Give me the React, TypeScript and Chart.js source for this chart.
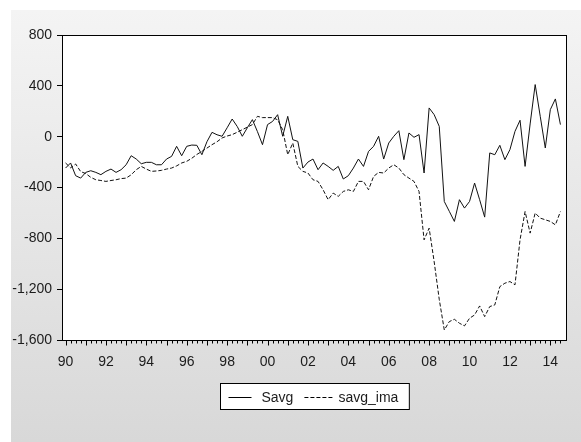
import { useEffect, useRef } from 'react';
import { Chart, registerables } from 'chart.js';

Chart.register(...registerables);

// quarterly, 1990Q1 .. 2014Q3
const savg = [
	-247, -207, -307, -326, -281, -268, -281, -299, -273, -255, -281, -260,
	-221, -150, -176, -213, -202, -202, -221, -221, -176, -155, -76, -150,
	-76, -66, -68, -142, -40, 34, 15, 3, 70, 139, 80, 3,
	70, 134, 40, -63, 95, 120, 173, 3, 160, -24, -37, -247,
	-200, -176, -260, -207, -234, -265, -234, -333, -307, -247, -176, -234,
	-116, -76, 3, -176, -50, 3, 47, -181, 29, -5, 16, -286,
	226, 173, 81, -510, -588, -667, -496, -562, -510, -365, -496, -633,
	-128, -142, -68, -181, -102, 42, 129, -234, 100, 410, 160, -89,
	213, 297, 95,
];
const savgIma = [
	-207, -245, -215, -275, -290, -320, -339, -345, -352, -345, -339, -330,
	-326, -300, -260, -234, -255, -273, -270, -265, -255, -247, -230, -207,
	-194, -170, -140, -116, -90, -63, -40, -10, 5, 16, 35, 55,
	75, 95, 160, 150, 150, 150, 133, 55, -142, -50, -234, -273,
	-286, -339, -352, -418, -496, -444, -470, -431, -418, -431, -352, -352,
	-418, -313, -281, -286, -247, -221, -247, -299, -326, -352, -431, -812,
	-720, -985, -1280, -1521, -1455, -1437, -1468, -1489, -1429, -1403, -1332, -1416,
	-1337, -1324, -1180, -1153, -1140, -1166, -812, -589, -759, -601, -641, -654,
	-667, -694, -589,
];
const yearLabels = ['90', '92', '94', '96', '98', '00', '02', '04', '06', '08', '10', '12', '14'];
const yTicks = [800, 400, 0, -400, -800, -1200, -1600];

const FONT = "'Liberation Sans', Arial, sans-serif";
const TEXT = '#1c1c1c';

const toPoints = (arr: number[]) => arr.map((v, i) => ({ x: i, y: v }));

const framePlugin = {
	id: 'frame',
	beforeDraw(chart: any) {
		const { ctx, chartArea: a } = chart;
		ctx.save();
		ctx.fillStyle = '#fff';
		ctx.fillRect(a.left, a.top, a.right - a.left, a.bottom - a.top);
		ctx.restore();
	},
	afterDraw(chart: any) {
		const { ctx, chartArea: a, scales } = chart;
		ctx.save();
		ctx.strokeStyle = '#000';
		ctx.lineWidth = 1;
		const l = Math.round(a.left) + 0.5;
		const t = Math.round(a.top) + 0.5;
		const r = Math.round(a.right) - 0.5;
		const b = Math.round(a.bottom) + 0.5;
		ctx.strokeRect(l, t, r - l, b - t);

		// quarterly tick marks, longer at each year
		ctx.beginPath();
		for (let i = 0; i < savg.length; i++) {
			const px = Math.round(scales.x.getPixelForValue(i)) + 0.5;
			ctx.moveTo(px, b);
			ctx.lineTo(px, b + (i % 4 === 0 ? 5 : 3));
		}
		ctx.stroke();

		// legend box
		ctx.font = `14px ${FONT}`;
		ctx.textBaseline = 'middle';
		const items = chart.data.datasets.map((ds: any) => ({
			label: ds.label,
			dash: ds.borderDash || [],
			sample: ds.borderDash ? 28 : 23,
			w: ctx.measureText(ds.label).width,
		}));
		const padL = 8;
		const padR = 11;
		const gapText = [10, 6];
		const gapItem = 11;
		let width = padL + padR + gapItem * (items.length - 1);
		items.forEach((it: any, k: number) => (width += it.sample + gapText[k] + it.w));
		const cx = (a.left + a.right) / 2;
		const bx = Math.round(cx - width / 2) + 0.5;
		const by = 383.5;
		const bh = 26;
		ctx.fillStyle = '#fff';
		ctx.fillRect(bx, by, width, bh);
		ctx.strokeRect(bx, by, width, bh);
		const my = Math.round(by + bh / 2);
		let x = bx + padL;
		items.forEach((it: any, k: number) => {
			ctx.setLineDash(it.dash);
			ctx.beginPath();
			ctx.moveTo(x, my + 0.5);
			ctx.lineTo(x + it.sample, my + 0.5);
			ctx.stroke();
			ctx.setLineDash([]);
			x += it.sample + gapText[k];
			ctx.fillStyle = TEXT;
			ctx.fillText(it.label, x, my + 1);
			x += it.w + gapItem;
		});
		ctx.restore();
	},
};

const App = () => {
	const chartRef = useRef<HTMLCanvasElement>(null);
	const chartInstanceRef = useRef<Chart | null>(null);

	useEffect(() => {
		if (chartRef.current) {
			if (chartInstanceRef.current) {
				chartInstanceRef.current.destroy();
			}
			chartInstanceRef.current = new Chart(chartRef.current, {
				type: 'line',
				data: {
					datasets: [
						{
							label: 'Savg',
							data: toPoints(savg),
							borderColor: '#111',
							borderWidth: 1,
							pointRadius: 0,
							tension: 0,
						},
						{
							label: 'savg_ima',
							data: toPoints(savgIma),
							borderColor: '#111',
							borderWidth: 1,
							borderDash: [4, 2],
							pointRadius: 0,
							tension: 0,
						},
					],
				},
				options: {
					responsive: false,
					animation: false,
					layout: { padding: { top: 35, right: 14, left: 0, bottom: 0 } },
					plugins: {
						legend: { display: false },
						tooltip: { enabled: false },
					},
					scales: {
						x: {
							type: 'linear',
							min: -0.7,
							max: 99.3,
							afterFit: (scale: any) => {
								scale.height = 102;
							},
							afterBuildTicks: (scale: any) => {
								scale.ticks = yearLabels.map((_, k) => ({ value: k * 8 }));
							},
							grid: { display: false, drawTicks: false },
							border: { display: false },
							ticks: {
								autoSkip: false,
								maxRotation: 0,
								padding: 14,
								color: TEXT,
								font: { family: FONT, size: 14 },
								callback: (_v: any, idx: number) => yearLabels[idx],
							},
						},
						y: {
							min: yTicks[yTicks.length - 1],
							max: yTicks[0],
							afterFit: (scale: any) => {
								scale.width = 62;
							},
							afterBuildTicks: (scale: any) => {
								scale.ticks = yTicks.map((v) => ({ value: v }));
							},
							grid: {
								display: true,
								drawOnChartArea: false,
								drawTicks: true,
								tickLength: 5,
								color: '#000',
							},
							border: { display: false },
							ticks: {
								padding: 5,
								color: TEXT,
								font: { family: FONT, size: 14 },
								callback: (v: any) => Number(v).toLocaleString('en-US'),
							},
						},
					},
				},
				plugins: [framePlugin],
			});
		}

		return () => {
			if (chartInstanceRef.current) {
				chartInstanceRef.current.destroy();
				chartInstanceRef.current = null;
			}
		};
	}, []);

	return (
		<div style={{ position: 'fixed', left: 0, top: 0, width: 581, height: 442, background: '#fff' }}>
			<div
				style={{
					position: 'absolute',
					left: 11,
					top: 10,
					right: 0,
					bottom: 0,
					background: 'linear-gradient(#f4f4f4, #d8d8d8)',
				}}
			/>
			<canvas ref={chartRef} width={581} height={442} style={{ position: 'absolute', left: 0, top: 0 }} />
		</div>
	);
};

export default App;
